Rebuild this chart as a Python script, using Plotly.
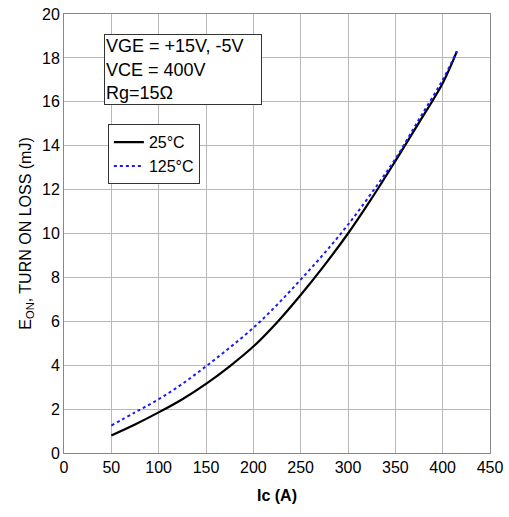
import plotly.graph_objects as go

# collector current (A)
ic_a = [50, 75, 100, 125, 150, 175, 200, 225, 250, 275, 300, 325, 350, 375, 400, 415]
# turn-on loss, mJ
eon_25c = [0.8, 1.3, 1.85, 2.45, 3.15, 3.95, 4.85, 5.95, 7.2, 8.55, 10.0, 11.6, 13.3, 15.05, 16.85, 18.3]
eon_125c = [1.25, 1.85, 2.45, 3.15, 3.95, 4.8, 5.7, 6.75, 7.9, 9.1, 10.4, 11.85, 13.4, 15.2, 17.0, 18.3]

FONT = "Liberation Sans, Arial, sans-serif"

fig = go.Figure()
fig.add_trace(go.Scatter(x=ic_a, y=eon_25c, mode="lines", name="25°C",
                         line=dict(color="black", width=2.2, shape="spline")))
fig.add_trace(go.Scatter(x=ic_a, y=eon_125c, mode="lines", name="125°C",
                         line=dict(color="#1a1aff", width=2, dash="dot", shape="spline")))

fig.add_annotation(
    xref="paper", yref="paper", x=0.094, y=0.955, xanchor="left", yanchor="top",
    text="VGE = +15V, -5V<br>VCE = 400V<br>Rg=15Ω", showarrow=False, align="left",
    width=154, height=67,
    font=dict(family=FONT, size=18, color="black"),
    bordercolor="#333333", borderwidth=1, borderpad=1, bgcolor="white",
)

fig.update_layout(
    width=509, height=517,
    margin=dict(l=64, r=19, t=14, b=64),
    paper_bgcolor="white", plot_bgcolor="white",
    font=dict(family=FONT, size=16, color="black"),
    legend=dict(x=0.103, y=0.749, xanchor="left", yanchor="top",
                bordercolor="#333333", borderwidth=1, bgcolor="white",
                font=dict(size=16), tracegroupgap=0, itemwidth=30),
    xaxis=dict(range=[0, 450], dtick=50, showgrid=True, gridcolor="#b8b8b8", gridwidth=1,
               showline=True, linecolor="#888888", mirror=True, zeroline=False,
               automargin=False, ticks="",
               title=dict(text="<b>Ic (A)</b>", standoff=14, font=dict(size=16))),
    yaxis=dict(range=[0, 20], dtick=2, showgrid=True, gridcolor="#b8b8b8", gridwidth=1,
               showline=True, linecolor="#888888", mirror=True, zeroline=False,
               automargin=False, ticks="",
               title=dict(text="E<sub>ON</sub>, TURN ON LOSS (mJ)", standoff=6,
                          font=dict(size=16))),
)

# drop the browser's default 8px body margin so the figure fills the window
fig.write_html("out.html", config={"displayModeBar": False},
               post_script="document.body.style.margin='0';")
